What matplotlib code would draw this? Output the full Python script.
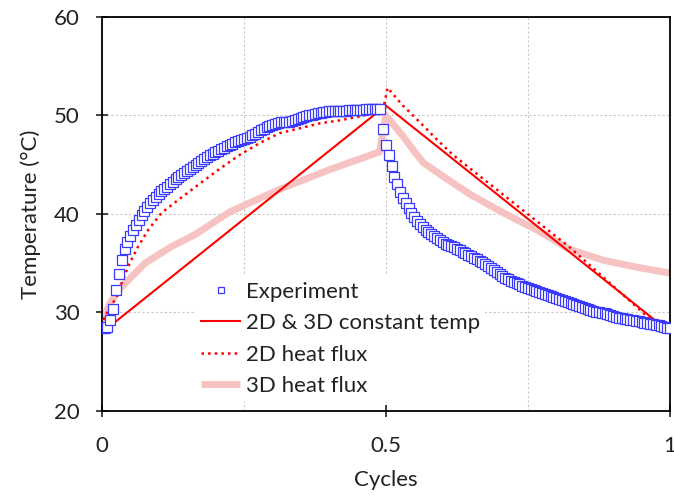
import numpy as np
import matplotlib
matplotlib.use('Agg')
from matplotlib import pyplot as plt

plt.rcParams['font.family'] = ['Lato', 'DejaVu Sans']

# experiment, heating half (0 .. 0.49 cycles, step 0.005)
exp_heat = [28.4, 28.4, 28.5, 29.2, 30.4, 32.3, 33.9, 35.3, 36.4, 37.2,
            37.8, 38.4, 38.9, 39.4, 39.9, 40.3, 40.7, 41.1, 41.4, 41.7,
            42.0, 42.3, 42.5, 42.7, 43.0, 43.2, 43.5, 43.8, 44.0, 44.2,
            44.4, 44.6, 44.8, 45.0, 45.2, 45.4, 45.6, 45.8, 46.0, 46.1,
            46.3, 46.4, 46.6, 46.7, 46.9, 47.0, 47.1, 47.3, 47.4, 47.5,
            47.6, 47.7, 47.8, 48.0, 48.1, 48.3, 48.5, 48.6, 48.8, 48.9,
            49.0, 49.1, 49.2, 49.3, 49.3, 49.3, 49.3, 49.4, 49.5, 49.6,
            49.7, 49.8, 49.9, 50.0, 50.0, 50.1, 50.2, 50.2, 50.3, 50.3,
            50.4, 50.4, 50.5, 50.5, 50.5, 50.5, 50.5, 50.6, 50.6, 50.6,
            50.6, 50.6, 50.6, 50.7, 50.7, 50.7, 50.7, 50.7, 50.7]
# experiment, cooling half (0.495 .. 1.0 cycles, step 0.005)
exp_cool = [48.6, 47.0, 46.0, 44.9, 43.8, 43.0, 42.2, 41.6, 41.1, 40.6,
            40.1, 39.7, 39.3, 39.0, 38.7, 38.4, 38.2, 38.0, 37.8, 37.6,
            37.4, 37.2, 37.0, 36.9, 36.7, 36.6, 36.4, 36.3, 36.1, 36.0,
            35.8, 35.7, 35.5, 35.4, 35.2, 35.1, 34.9, 34.7, 34.5, 34.3,
            34.1, 33.9, 33.7, 33.5, 33.4, 33.2, 33.1, 33.0, 32.9, 32.7,
            32.6, 32.5, 32.4, 32.3, 32.2, 32.1, 32.0, 31.9, 31.8, 31.7,
            31.6, 31.5, 31.4, 31.3, 31.2, 31.1, 31.0, 30.9, 30.8, 30.7,
            30.6, 30.5, 30.4, 30.3, 30.2, 30.1, 30.0, 29.95, 29.9, 29.8,
            29.7, 29.6, 29.5, 29.45, 29.4, 29.35, 29.3, 29.25, 29.2, 29.15,
            29.1, 29.0, 28.95, 28.9, 28.85, 28.8, 28.75, 28.7, 28.6, 28.5,
            28.45, 28.4]

# 2D & 3D constant temperature
const_x = [0.0, 0.025, 0.5, 0.974, 1.0]
const_y = [28.4, 29.1, 51.0, 29.2, 28.4]

# 2D heat flux
flux2d_x = [0.0, 0.005, 0.014, 0.026, 0.037, 0.049, 0.064, 0.082, 0.105, 0.134,
            0.173, 0.208, 0.243, 0.278, 0.313, 0.349, 0.384, 0.419, 0.454, 0.495,
            0.503, 0.53, 0.56, 0.589, 0.618, 0.824, 0.96, 1.0]
flux2d_y = [28.6, 29.6, 30.4, 31.6, 33.3, 35.0, 36.7, 38.4, 40.1, 41.4,
            43.1, 44.6, 46.0, 47.2, 48.2, 48.7, 49.2, 49.5, 49.9, 50.5,
            52.8, 51.0, 49.3, 47.6, 46.0, 36.6, 29.6, 28.4]

# 3D heat flux
flux3d_x = [0.0, 0.015, 0.035, 0.076, 0.123, 0.164, 0.225, 0.313, 0.401, 0.489,
            0.5, 0.53, 0.548, 0.566, 0.601, 0.648, 0.707, 0.765, 0.824, 0.883,
            0.941, 1.0]
flux3d_y = [29.0, 31.0, 32.6, 35.0, 36.7, 37.9, 40.2, 42.5, 44.5, 46.3,
            50.0, 47.9, 46.5, 45.2, 43.8, 42.0, 40.1, 38.4, 36.4, 35.3,
            34.6, 34.0]

heat_x = np.linspace(0, 0.49, len(exp_heat))
cool_x = np.linspace(0.495, 1.0, len(exp_cool))
exp_x = np.concatenate([heat_x, cool_x])
exp_y = np.array(exp_heat + exp_cool)

fig = plt.figure(figsize=(6.74, 4.97), dpi=100)
ax = fig.add_axes([0.151, 0.173, 0.843, 0.793])

ax.plot(flux3d_x, flux3d_y, color='#f7c2c2', lw=5, solid_capstyle='butt',
        label='3D heat flux', zorder=2)
ax.plot(flux2d_x, flux2d_y, color='#ff0000', lw=1.8, ls=':',
        label='2D heat flux', zorder=3)
ax.plot(const_x, const_y, color='#ff0000', lw=1.5,
        label='2D & 3D constant temp', zorder=4)
ax.plot(exp_x, exp_y, ls='none', marker='s', ms=7, mfc='white', mec='#3a3aff',
        mew=0.9, label='Experiment', zorder=5)

ax.set_xlim(0, 1)
ax.set_ylim(20, 60)
ax.set_xticks([0, 0.5, 1])
ax.set_xticklabels(['0', '0.5', '1'])
ax.set_xticks([0.25, 0.75], minor=True)
ax.set_yticks([20, 30, 40, 50, 60])
ax.tick_params(which='major', direction='inout', length=8, width=1.2,
               labelsize=16, pad=12, colors='#222222')
ax.tick_params(axis='x', which='major', pad=14)
ax.tick_params(which='minor', length=0)
ax.grid(True, which='both', color='#c8c8c8', ls=(0, (2, 2)), lw=0.8)
ax.set_axisbelow(True)
for s in ax.spines.values():
    s.set_linewidth(1.3)

ax.set_xlabel('Cycles', fontsize=16, color='#222222', labelpad=10)
ax.set_ylabel('Temperature (°C)', fontsize=16, color='#222222', labelpad=9)

h, l = ax.get_legend_handles_labels()
order = [3, 2, 1, 0]
leg = fig.legend([h[i] for i in order], [l[i] for i in order],
                 loc='upper left', bbox_to_anchor=(0.274, 0.467),
                 fontsize=16, frameon=True, fancybox=False, edgecolor='none',
                 facecolor='white', framealpha=1, handlelength=1.75,
                 handletextpad=0.25, labelspacing=0.52, borderpad=0.25,
                 markerscale=0.65)
for t in leg.get_texts():
    t.set_color('#222222')

fig.savefig('out.png', dpi=100)
